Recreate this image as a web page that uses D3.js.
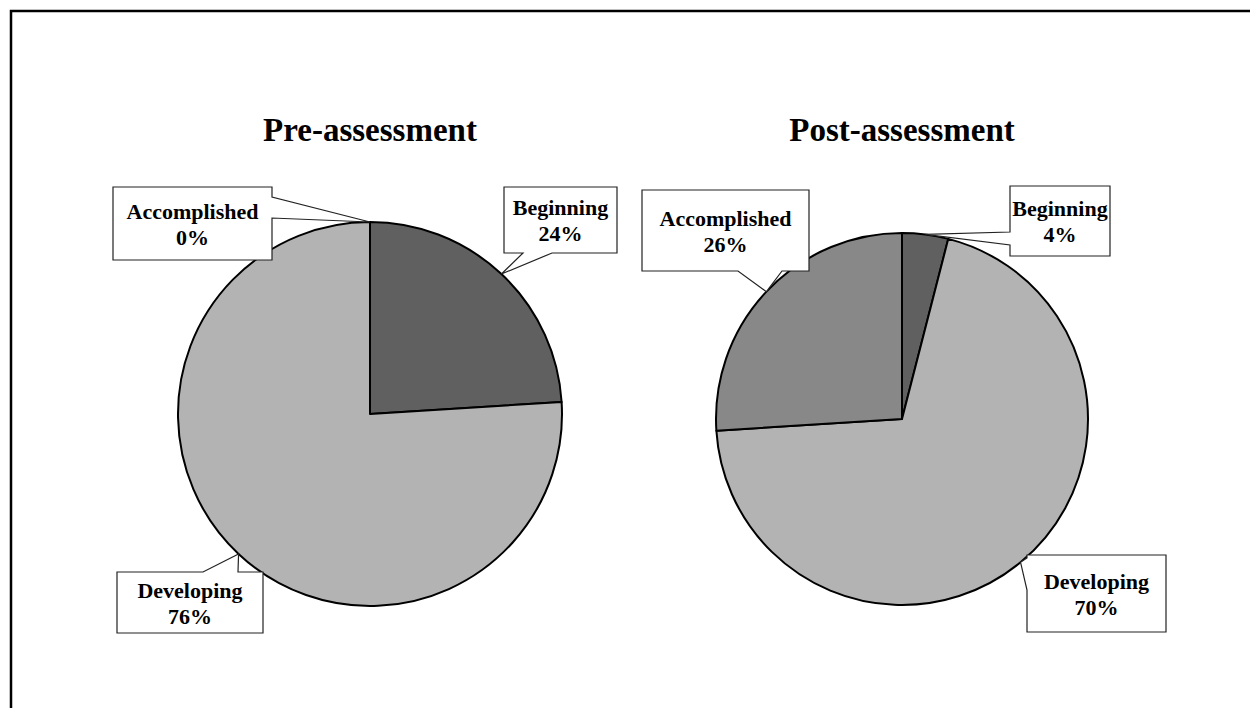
<!DOCTYPE html>
<html>
<head>
<meta charset="utf-8">
<script src="https://cdn.jsdelivr.net/npm/d3@7"></script>
<style>
  body { margin: 0; background: #fff; }
  text { font-family: "Liberation Serif", "Times New Roman", serif; font-weight: bold; fill: #000; }
</style>
</head>
<body>
<svg id="container"></svg>
<script>
const categories = ['Beginning', 'Developing', 'Accomplished'];
const preValues = [24, 76, 0];
const postValues = [4, 70, 26];
const titles = ['Pre-assessment', 'Post-assessment'];

const colour = d3.scaleOrdinal()
  .domain(categories)
  .range(['#606060', '#b3b3b3', '#888888']);

const svg = d3.select('#container')
  .attr('width', 1250)
  .attr('height', 708);

// outer frame (runs off the right and bottom edges)
svg.append('path')
  .attr('d', 'M11,720 L11,11 L1260,11')
  .attr('fill', 'none')
  .attr('stroke', '#000')
  .attr('stroke-width', 2.5);

// layout for the two pies and their callouts
const charts = [
  {
    title: titles[0], values: preValues, cx: 370, cy: 414, r: 192,
    boxes: {
      Accomplished: { x0: 113, y0: 187, x1: 272, y1: 260, side: 'right', b0: 197, b1: 218 },
      Beginning: { x0: 504, y0: 187, x1: 617, y1: 253, side: 'bottom', b0: 523, b1: 552 },
      Developing: { x0: 117, y0: 572, x1: 263, y1: 633, side: 'top', b0: 203, b1: 238 }
    }
  },
  {
    title: titles[1], values: postValues, cx: 902, cy: 419, r: 186,
    boxes: {
      Accomplished: { x0: 642, y0: 190, x1: 809, y1: 271, side: 'bottom', b0: 738, b1: 782 },
      Beginning: { x0: 1010, y0: 186, x1: 1110, y1: 256, side: 'left', b0: 232, b1: 245 },
      Developing: { x0: 1027, y0: 555, x1: 1166, y1: 632, side: 'left', b0: 558, b1: 590 }
    }
  }
];

const pie = d3.pie()
  .sort(null)
  .value(function (d) { return d.value; });

function calloutPath(b, tip) {
  const p = d3.path();
  p.moveTo(b.x0, b.y0);
  if (b.side === 'top') { p.lineTo(b.b0, b.y0); p.lineTo(tip[0], tip[1]); p.lineTo(b.b1, b.y0); }
  p.lineTo(b.x1, b.y0);
  if (b.side === 'right') { p.lineTo(b.x1, b.b0); p.lineTo(tip[0], tip[1]); p.lineTo(b.x1, b.b1); }
  p.lineTo(b.x1, b.y1);
  if (b.side === 'bottom') { p.lineTo(b.b1, b.y1); p.lineTo(tip[0], tip[1]); p.lineTo(b.b0, b.y1); }
  p.lineTo(b.x0, b.y1);
  if (b.side === 'left') { p.lineTo(b.x0, b.b1); p.lineTo(tip[0], tip[1]); p.lineTo(b.x0, b.b0); }
  p.closePath();
  return p.toString();
}

charts.forEach(function (c) {
  const data = pie(categories.map(function (k, i) { return { label: k, value: c.values[i] }; }));

  const arc = d3.arc().innerRadius(0).outerRadius(c.r);

  svg.append('text')
    .attr('x', c.cx)
    .attr('y', 141)
    .attr('text-anchor', 'middle')
    .style('font-size', '33px')
    .text(c.title);

  const g = svg.append('g')
    .attr('transform', 'translate(' + c.cx + ',' + c.cy + ')');

  g.selectAll('path')
    .data(data.filter(function (d) { return d.value > 0; }))
    .join('path')
    .attr('d', arc)
    .attr('fill', function (d) { return colour(d.data.label); })
    .attr('stroke', '#000')
    .attr('stroke-width', 2)
    .attr('stroke-linejoin', 'round');

  data.forEach(function (d) {
    const b = c.boxes[d.data.label];
    const mid = (d.startAngle + d.endAngle) / 2;
    const tip = [c.cx + c.r * Math.sin(mid), c.cy - c.r * Math.cos(mid)];

    svg.append('path')
      .attr('d', calloutPath(b, tip))
      .attr('fill', '#fff')
      .attr('stroke', '#222')
      .attr('stroke-width', 1.2);

    const tx = (b.x0 + b.x1) / 2;
    const ty = (b.y0 + b.y1) / 2;
    svg.append('text')
      .attr('x', tx)
      .attr('y', ty - 5)
      .attr('text-anchor', 'middle')
      .style('font-size', '22px')
      .text(d.data.label);
    svg.append('text')
      .attr('x', tx)
      .attr('y', ty + 21)
      .attr('text-anchor', 'middle')
      .style('font-size', '22px')
      .text(d.data.value + '%');
  });
});
</script>
</body>
</html>
